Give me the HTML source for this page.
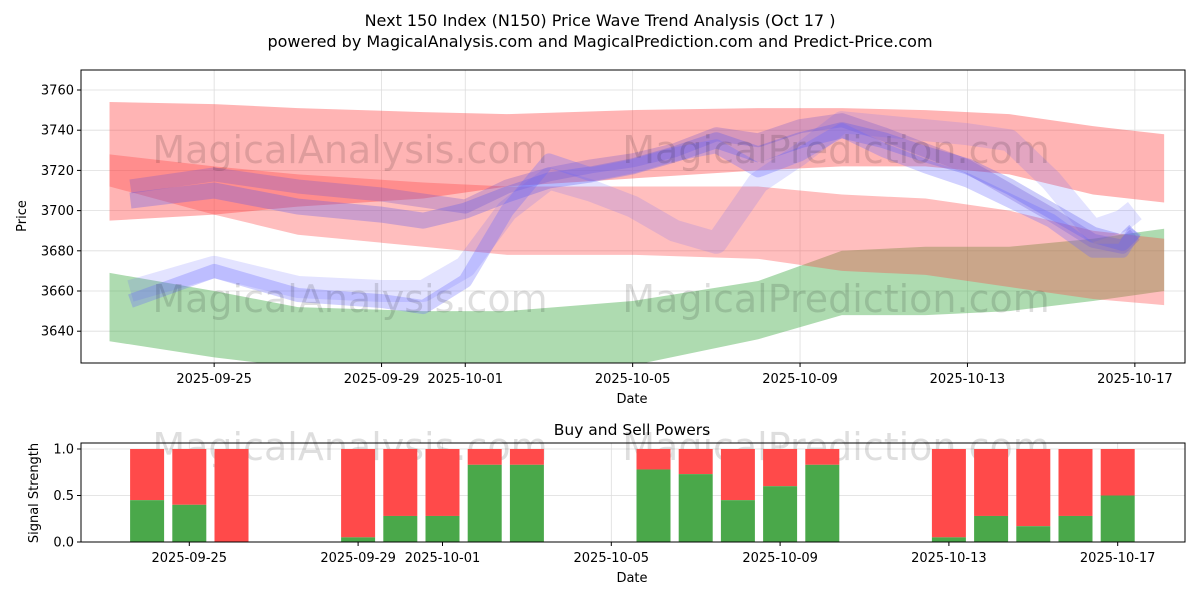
<!DOCTYPE html>
<html><head><meta charset="utf-8"><style>
body{margin:0;background:#fff;font-family:"Liberation Sans","DejaVu Sans",sans-serif}
svg text{font-family:"DejaVu Sans","Liberation Sans",sans-serif;fill:#000}
</style></head><body>
<svg id="c" width="1200" height="600" xmlns="http://www.w3.org/2000/svg">
<text x="600" y="26" font-size="16" text-anchor="middle">Next 150 Index (N150) Price Wave Trend Analysis (Oct 17 )</text>
<text x="600" y="47" font-size="16" text-anchor="middle">powered by MagicalAnalysis.com and MagicalPrediction.com and Predict-Price.com</text>
<g id="topg"></g><g id="botg"></g>
</svg>
<script>
const tickDates=['2025-09-25','2025-09-29','2025-10-01','2025-10-05','2025-10-09','2025-10-13','2025-10-17'];
const tickDays=[3,7,9,13,17,21,25];
const priceTicks=[3640,3660,3680,3700,3720,3740,3760];
const bandDays=[0.5,3,5,8,10,13,16,18,20,22,24,25.7];
const redTopUpper=[3754,3753,3751,3749,3748,3750,3751,3751,3750,3748,3742,3738];
const redTopLower=[3695,3698,3702,3706,3712,3716,3720,3722,3722,3718,3708,3704];
const redLowUpper=[3728,3722,3718,3714,3712,3712,3712,3708,3706,3700,3690,3686];
const redLowLower=[3712,3698,3688,3682,3678,3678,3676,3670,3668,3662,3656,3653];
const greenUpper=[3669,3660,3652,3650,3650,3655,3665,3680,3682,3682,3686,3691];
const greenLower=[3635,3627,3622,3620,3620,3623,3636,3648,3648,3650,3655,3660];
const blueDays=[1,3,5,7,8,9,10,11,12,13,14,15,16,17,18,19,20,21,22,23,24,24.7,25];
const blueA=[3705,3710,3702,3698,3695,3700,3708,3715,3718,3722,3728,3735,3728,3735,3740,3735,3728,3722,3712,3700,3688,3684,3690];
const blueB=[3655,3670,3658,3655,3652,3665,3700,3725,3718,3722,3728,3732,3720,3728,3740,3730,3722,3715,3705,3695,3680,3680,3690];
const blueC=[3712,3718,3712,3708,3705,3702,3712,3718,3722,3725,3730,3738,3735,3742,3745,3738,3730,3722,3710,3698,3685,3682,3688];
const blueD=[3660,3672,3662,3660,3660,3672,3700,3716,3710,3702,3690,3684,3714,3728,3744,3742,3740,3738,3735,3715,3690,3695,3700];
const buyDays=[2,3,4,7,8,9,10,11,14,15,16,17,18,21,22,23,24,25];
const buyVals=[0.45,0.4,0,0.05,0.28,0.28,0.83,0.83,0.78,0.73,0.45,0.6,0.83,0.05,0.28,0.17,0.28,0.5];
const NS='http://www.w3.org/2000/svg';
const X=d=>88.6+41.85*d, XB=d=>62.7+42.2*d, Y=v=>90+(3760-v)*2.01, YB=s=>542-s*93;
function el(p,t,a){const e=document.createElementNS(NS,t);for(const k in a)e.setAttribute(k,a[k]);p.appendChild(e);return e;}
const tg=document.getElementById('topg'), bg=document.getElementById('botg');
const WM={'font-size':38,fill:'#888','fill-opacity':0.13,'text-anchor':'middle'};
tickDays.forEach(d=>{el(tg,'line',{x1:X(d),x2:X(d),y1:70,y2:363,stroke:'#ddd','stroke-width':0.8});el(bg,'line',{x1:XB(d),x2:XB(d),y1:443,y2:542,stroke:'#ddd','stroke-width':0.8});});
priceTicks.forEach(v=>el(tg,'line',{x1:81,x2:1185,y1:Y(v),y2:Y(v),stroke:'#ddd','stroke-width':0.8}));
[0,0.5,1].forEach(s=>el(bg,'line',{x1:81,x2:1185,y1:YB(s),y2:YB(s),stroke:'#ddd','stroke-width':0.8}));
const clip=el(tg,'clipPath',{id:'cp'});el(clip,'rect',{x:81,y:70,width:1104,height:293});
const g=el(tg,'g',{'clip-path':'url(#cp)'});
function band(up,lo,fill,op,name){const pts=bandDays.map((d,i)=>X(d)+','+Y(up[i])).concat(bandDays.map((d,i)=>X(d)+','+Y(lo[i])).reverse());const p=el(g,'polygon',{points:pts.join(' '),fill:fill,'fill-opacity':op});

}
band(greenUpper,greenLower,'#4caf50',0.45,'green-band');
band(redTopUpper,redTopLower,'#ff4444',0.4,'red-upper-band');
band(redLowUpper,redLowLower,'#ff4444',0.35,'red-lower-band');
function line(vals,col,w,op,name){const p=el(g,'polyline',{points:blueDays.map((d,i)=>X(d)+','+Y(vals[i])).join(' '),fill:'none',stroke:col,'stroke-width':w,'stroke-opacity':op,'stroke-linejoin':'round','stroke-linecap':'butt'});

}
line(blueD,'#6666ff',22,0.18,'blue-wave-d');
line(blueC,'#7755cc',14,0.3,'blue-wave-c');
line(blueA,'#5555ee',16,0.3,'blue-wave-a');
line(blueB,'#6666ff',14,0.3,'blue-wave-b');
el(g,'text',Object.assign({x:350,y:163},WM)).textContent='MagicalAnalysis.com';
el(g,'text',Object.assign({x:836,y:163},WM)).textContent='MagicalPrediction.com';
el(g,'text',Object.assign({x:350,y:312},WM)).textContent='MagicalAnalysis.com';
el(g,'text',Object.assign({x:836,y:312},WM)).textContent='MagicalPrediction.com';
el(tg,'rect',{x:81,y:70,width:1104,height:293,fill:'none',stroke:'#000','stroke-width':1});
tickDays.forEach((d,i)=>{el(tg,'line',{x1:X(d),x2:X(d),y1:363,y2:367,stroke:'#000'});const t=el(tg,'text',{x:X(d),y:383,'font-size':13,'text-anchor':'middle'});t.textContent=tickDates[i];
el(bg,'line',{x1:XB(d),x2:XB(d),y1:542,y2:546,stroke:'#000'});const u=el(bg,'text',{x:XB(d),y:562,'font-size':13,'text-anchor':'middle'});u.textContent=tickDates[i];});
priceTicks.forEach(v=>{el(tg,'line',{x1:77,x2:81,y1:Y(v),y2:Y(v),stroke:'#000'});const t=el(tg,'text',{x:74,y:Y(v)+4.5,'font-size':13,'text-anchor':'end'});t.textContent=v;});
el(tg,'text',{x:632,y:403,'font-size':13,'text-anchor':'middle'}).textContent='Date';
el(tg,'text',{x:26,y:216,'font-size':13,'text-anchor':'middle',transform:'rotate(-90 26 216)'}).textContent='Price';
el(bg,'text',Object.assign({x:350,y:460},WM)).textContent='MagicalAnalysis.com';
el(bg,'text',Object.assign({x:836,y:460},WM)).textContent='MagicalPrediction.com';
el(bg,'text',{x:632,y:435,'font-size':15.5,'text-anchor':'middle'}).textContent='Buy and Sell Powers';
buyDays.forEach((d,i)=>{const v=buyVals[i];
const r=el(bg,'rect',{x:XB(d)-17,y:YB(1),width:34,height:YB(v)-YB(1),fill:'#ff4a4a'});


const b=el(bg,'rect',{x:XB(d)-17,y:YB(v),width:34,height:542-YB(v),fill:'#4aa84a'});

});
el(bg,'rect',{x:81,y:443,width:1104,height:99,fill:'none',stroke:'#000','stroke-width':1});
[0,0.5,1].forEach(s=>{el(bg,'line',{x1:77,x2:81,y1:YB(s),y2:YB(s),stroke:'#000'});const t=el(bg,'text',{x:74,y:YB(s)+4.5,'font-size':13,'text-anchor':'end'});t.textContent=s.toFixed(1);});
el(bg,'text',{x:632,y:582,'font-size':13,'text-anchor':'middle'}).textContent='Date';
el(bg,'text',{x:38,y:493,'font-size':13,'text-anchor':'middle',transform:'rotate(-90 38 493)'}).textContent='Signal Strength';
</script>
</body></html>
